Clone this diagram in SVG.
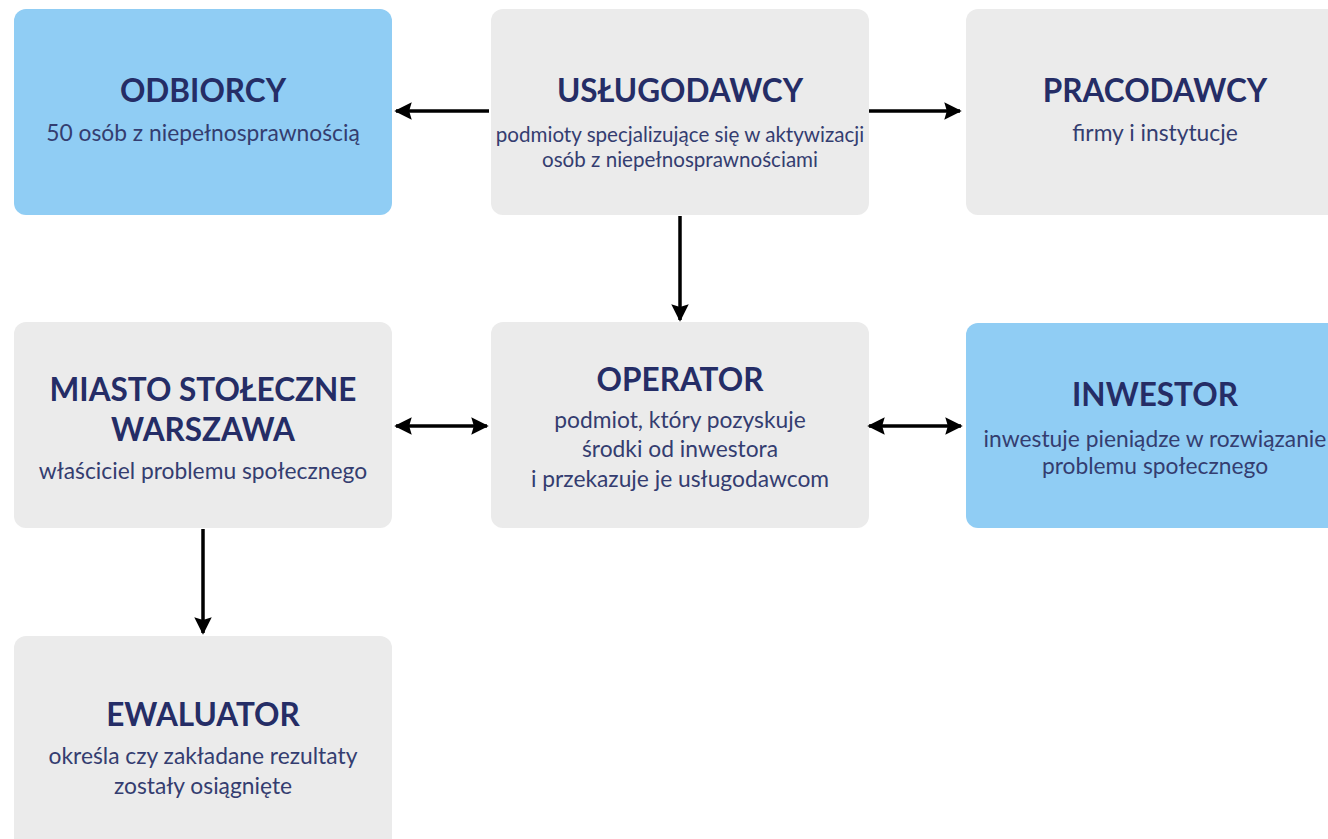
<svg xmlns="http://www.w3.org/2000/svg" width="1328" height="839" viewBox="0 0 1328 839">
<style>
.box{fill:#ebebeb}
.blue{fill:#90cdf4}
.t{font-family:Lato,"Liberation Sans",sans-serif;font-weight:700;font-size:31.5px;fill:#252d66;text-anchor:middle}
.s{font-family:Lato,"Liberation Sans",sans-serif;font-weight:400;font-size:22.8px;fill:#343d70;text-anchor:middle}
.s2{font-size:20.6px}
.c{stroke:#000;stroke-width:3.5;fill:none}
</style>
<defs>
<marker id="ah" viewBox="0 0 10 10" refX="9" refY="5" markerWidth="5" markerHeight="5" markerUnits="strokeWidth" orient="auto-start-reverse">
<path d="M0,0 L10,5 L0,10 L1.5,5 z" fill="#000"/>
</marker>
</defs>
<rect width="1328" height="839" fill="#fff"/>
<g id="odbiorcy">
<rect class="blue" x="14" y="9" width="378" height="206" rx="12"/>
<text class="t" x="203" y="102">ODBIORCY</text>
<text class="s" x="203" y="141">50 osób z niepełnosprawnością</text>
</g>
<g id="uslugodawcy">
<rect class="box" x="491" y="9" width="378" height="206" rx="12"/>
<text class="t" x="680" y="102">USŁUGODAWCY</text>
<text class="s s2" x="680" y="142">podmioty specjalizujące się w aktywizacji</text>
<text class="s s2" x="680" y="167">osób z niepełnosprawnościami</text>
</g>
<g id="pracodawcy">
<rect class="box" x="966" y="9" width="378" height="206" rx="12"/>
<text class="t" x="1155" y="102">PRACODAWCY</text>
<text class="s" x="1155" y="141">firmy i instytucje</text>
</g>
<g id="miasto">
<rect class="box" x="14" y="322" width="378" height="206" rx="12"/>
<text class="t" x="203" y="401">MIASTO STOŁECZNE</text>
<text class="t" x="203" y="441">WARSZAWA</text>
<text class="s" x="203" y="479">właściciel problemu społecznego</text>
</g>
<g id="operator">
<rect class="box" x="491" y="322" width="378" height="206" rx="12"/>
<text class="t" x="680" y="391">OPERATOR</text>
<text class="s" x="680" y="428">podmiot, który pozyskuje</text>
<text class="s" x="680" y="457">środki od inwestora</text>
<text class="s" x="680" y="487">i przekazuje je usługodawcom</text>
</g>
<g id="inwestor">
<rect class="blue" x="966" y="323" width="378" height="205" rx="12"/>
<text class="t" x="1155" y="406">INWESTOR</text>
<text class="s" x="1155" y="447">inwestuje pieniądze w rozwiązanie</text>
<text class="s" x="1155" y="474">problemu społecznego</text>
</g>
<g id="ewaluator">
<rect class="box" x="14" y="636" width="378" height="220" rx="12"/>
<text class="t" x="203" y="726">EWALUATOR</text>
<text class="s" x="203" y="764">określa czy zakładane rezultaty</text>
<text class="s" x="203" y="794">zostały osiągnięte</text>
</g>
<g id="connectors">
<line class="c" x1="489" y1="111" x2="396" y2="111" marker-end="url(#ah)"/>
<line class="c" x1="869" y1="111" x2="960" y2="111" marker-end="url(#ah)"/>
<line class="c" x1="680" y1="216" x2="680" y2="320" marker-end="url(#ah)"/>
<line class="c" x1="396" y1="426" x2="487" y2="426" marker-start="url(#ah)" marker-end="url(#ah)"/>
<line class="c" x1="869" y1="426" x2="961" y2="426" marker-start="url(#ah)" marker-end="url(#ah)"/>
<line class="c" x1="203" y1="529" x2="203" y2="633" marker-end="url(#ah)"/>
</g>
</svg>
